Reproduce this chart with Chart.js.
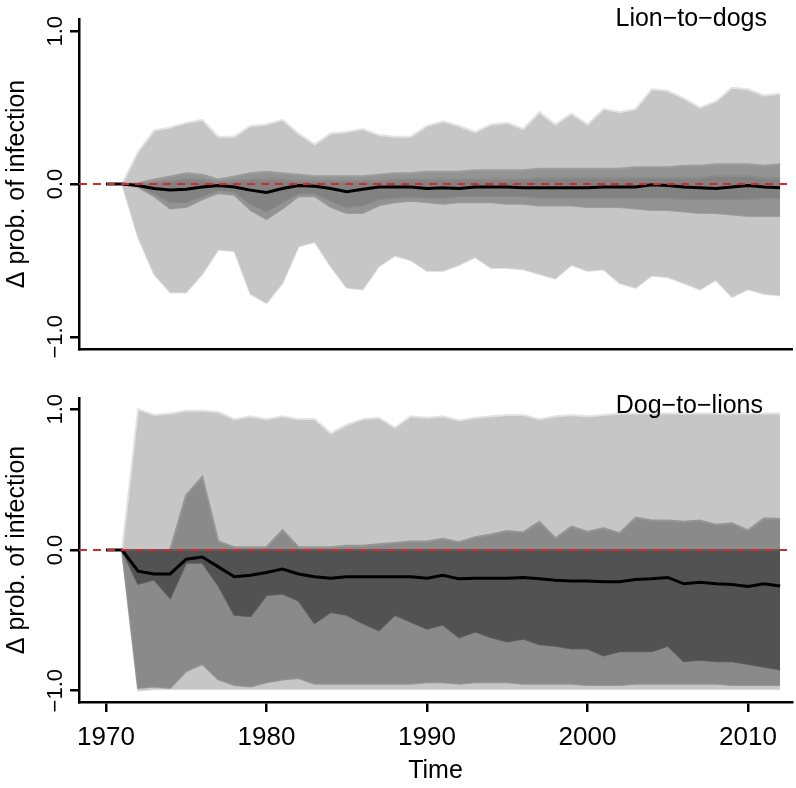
<!DOCTYPE html>
<html>
<head>
<meta charset="utf-8">
<script src="https://cdn.jsdelivr.net/npm/chart.js@4.4.1/dist/chart.umd.min.js"></script>
<style>
html, body { margin: 0; padding: 0; background: #fff; }
#wrap { position: relative; width: 796px; height: 788px; }
#top { position: absolute; left: 0; top: 0; }
#bottom { position: absolute; left: 0; top: 365px; }
</style>
</head>
<body>
<div id="wrap">
  <canvas id="top" width="796" height="365"></canvas>
  <canvas id="bottom" width="796" height="423"></canvas>
</div>
<script>
const years = [];
for (let y = 1970; y <= 2012; y++) years.push(y);

const xTicks = [1970, 1980, 1990, 2000, 2010];
const yTicks = [-1, 0, 1];

// Lion-to-dogs
const ldLightHi = [0, 0, 0.21, 0.35, 0.37, 0.40, 0.42, 0.31, 0.31, 0.38, 0.39, 0.42, 0.33, 0.26, 0.33, 0.34, 0.36, 0.32, 0.31, 0.31, 0.38,
  0.41, 0.38, 0.34, 0.39, 0.40, 0.36, 0.47, 0.39, 0.46, 0.39, 0.49, 0.47, 0.49, 0.62, 0.61, 0.56, 0.50, 0.54, 0.63, 0.62, 0.58, 0.59];
const ldLightLo = [0, 0, -0.35, -0.59, -0.71, -0.71, -0.59, -0.43, -0.44, -0.72, -0.78, -0.65, -0.41, -0.38, -0.54, -0.68, -0.69, -0.54, -0.47, -0.50, -0.57,
  -0.57, -0.53, -0.48, -0.55, -0.55, -0.56, -0.59, -0.62, -0.53, -0.57, -0.56, -0.65, -0.68, -0.60, -0.61, -0.65, -0.69, -0.63, -0.74, -0.69, -0.72, -0.73];
const ldMidHi = [0, 0, 0.005, 0.03, 0.05, 0.07, 0.06, 0.03, 0.05, 0.07, 0.08, 0.07, 0.06, 0.05, 0.05, 0.05, 0.05, 0.06, 0.07, 0.07, 0.08,
  0.08, 0.08, 0.09, 0.09, 0.09, 0.09, 0.10, 0.10, 0.10, 0.10, 0.10, 0.10, 0.11, 0.11, 0.11, 0.12, 0.12, 0.13, 0.13, 0.13, 0.12, 0.13];
const ldMidLo = [0, 0, -0.02, -0.08, -0.16, -0.15, -0.10, -0.06, -0.07, -0.17, -0.23, -0.16, -0.08, -0.08, -0.15, -0.19, -0.19, -0.14, -0.12, -0.11, -0.12,
  -0.13, -0.12, -0.12, -0.12, -0.13, -0.13, -0.14, -0.14, -0.14, -0.15, -0.15, -0.15, -0.16, -0.17, -0.17, -0.18, -0.19, -0.19, -0.20, -0.21, -0.21, -0.21];
const ldInHi = [0, 0, 0, 0.01, 0.02, 0.03, 0.03, 0.01, 0.02, 0.03, 0.03, 0.03, 0.02, 0.02, 0.02, 0.02, 0.02, 0.02, 0.03, 0.03, 0.03,
  0.03, 0.03, 0.03, 0.03, 0.03, 0.03, 0.04, 0.04, 0.04, 0.04, 0.04, 0.04, 0.04, 0.04, 0.04, 0.04, 0.04, 0.05, 0.05, 0.05, 0.04, 0.04];
const ldInLo = [0, 0, -0.015, -0.06, -0.12, -0.12, -0.08, -0.04, -0.05, -0.13, -0.18, -0.12, -0.06, -0.06, -0.11, -0.15, -0.14, -0.10, -0.09, -0.08, -0.09,
  -0.09, -0.08, -0.08, -0.08, -0.08, -0.08, -0.09, -0.09, -0.09, -0.09, -0.09, -0.09, -0.09, -0.09, -0.09, -0.10, -0.10, -0.10, -0.10, -0.10, -0.09, -0.09];
const ldMed = [0, 0, -0.01, -0.03, -0.04, -0.035, -0.02, -0.01, -0.02, -0.04, -0.055, -0.03, -0.01, -0.015, -0.03, -0.05, -0.035, -0.02, -0.02, -0.02, -0.03,
  -0.025, -0.03, -0.02, -0.02, -0.02, -0.025, -0.025, -0.025, -0.025, -0.025, -0.02, -0.02, -0.02, -0.005, -0.01, -0.02, -0.025, -0.03, -0.02, -0.01, -0.02, -0.025];

// Dog-to-lions
const dlLightHi = [0, 0, 1.0, 0.96, 0.97, 0.99, 0.99, 0.98, 0.93, 0.95, 0.93, 0.95, 0.93, 0.93, 0.83, 0.89, 0.93, 0.94, 0.87, 0.95, 0.94,
  0.95, 0.92, 0.94, 0.95, 0.96, 0.96, 0.93, 0.95, 0.96, 0.95, 0.96, 0.97, 0.97, 0.97, 0.97, 0.97, 0.97, 0.97, 0.97, 0.97, 0.97, 0.97];
const dlLightLo = [0, 0, -1.0, -0.99, -0.99, -0.99, -0.99, -0.99, -0.99, -0.99, -0.99, -0.99, -0.99, -0.99, -0.99, -0.99, -0.99, -0.99, -0.99, -0.99, -0.99,
  -0.99, -0.99, -0.99, -0.99, -0.99, -0.99, -0.99, -0.99, -0.99, -0.99, -0.99, -0.99, -0.99, -0.99, -0.99, -0.99, -0.99, -0.99, -0.99, -0.99, -0.99, -0.99];
const dlMidHi = [0, 0, 0, 0, 0, 0.39, 0.52, 0.06, 0.02, 0.02, 0.02, 0.14, 0.02, 0.02, 0.02, 0.03, 0.03, 0.04, 0.05, 0.06, 0.06,
  0.08, 0.055, 0.09, 0.11, 0.135, 0.125, 0.20, 0.083, 0.166, 0.13, 0.154, 0.12, 0.23, 0.21, 0.21, 0.20, 0.21, 0.18, 0.19, 0.14, 0.225, 0.22];
const dlMidLo = [0, 0, -0.98, -0.97, -0.98, -0.86, -0.81, -0.92, -0.96, -0.97, -0.94, -0.92, -0.91, -0.95, -0.95, -0.95, -0.95, -0.95, -0.95, -0.95, -0.94,
  -0.94, -0.95, -0.94, -0.94, -0.94, -0.95, -0.95, -0.95, -0.95, -0.96, -0.96, -0.96, -0.95, -0.95, -0.95, -0.95, -0.95, -0.95, -0.96, -0.96, -0.96, -0.96];
const dlInHi = [0, 0, 0, 0, 0, 0, 0, 0, 0, 0, 0, 0, 0, 0, 0, 0, 0, 0, 0, 0, 0,
  0, 0, 0, 0, 0, 0, 0, 0, 0, 0, 0, 0, 0, 0, 0, 0, 0, 0, 0, 0, 0, 0];
const dlInLo = [0, 0, -0.24, -0.21, -0.34, -0.09, -0.09, -0.25, -0.46, -0.47, -0.32, -0.31, -0.36, -0.52, -0.44, -0.46, -0.52, -0.57, -0.46, -0.51, -0.56,
  -0.53, -0.62, -0.58, -0.62, -0.65, -0.63, -0.67, -0.68, -0.70, -0.70, -0.75, -0.72, -0.72, -0.72, -0.68, -0.79, -0.78, -0.79, -0.79, -0.81, -0.83, -0.85];
const dlMed = [0, 0, -0.15, -0.17, -0.17, -0.065, -0.05, -0.12, -0.19, -0.18, -0.16, -0.135, -0.17, -0.19, -0.20, -0.19, -0.19, -0.19, -0.19, -0.19, -0.20,
  -0.18, -0.205, -0.20, -0.20, -0.20, -0.195, -0.205, -0.215, -0.22, -0.22, -0.225, -0.225, -0.21, -0.205, -0.195, -0.24, -0.23, -0.24, -0.245, -0.26, -0.24, -0.255];

const FONT = "'Liberation Sans', Arial, Helvetica, sans-serif";
const xMin = 1968.32, xMax = 2012.74;

function pts(arr) {
  return years.map((yr, i) => ({ x: yr, y: arr[i] }));
}

function band(hi, lo, fillCol, edgeCol) {
  return [
    { data: pts(hi), borderColor: edgeCol, borderWidth: 2, backgroundColor: fillCol, fill: '+1', pointRadius: 0, tension: 0 },
    { data: pts(lo), borderColor: edgeCol, borderWidth: 2, fill: false, pointRadius: 0, tension: 0 }
  ];
}

const zeroLine = {
  id: 'zeroLine',
  afterDatasetsDraw(chart) {
    const { ctx, chartArea, scales } = chart;
    const y = scales.y.getPixelForValue(0);
    ctx.save();
    ctx.strokeStyle = '#d22b2b';
    ctx.lineWidth = 2;
    ctx.setLineDash([8, 6]);
    ctx.beginPath();
    ctx.moveTo(chartArea.left, y);
    ctx.lineTo(chartArea.right, y);
    ctx.stroke();
    ctx.restore();
  }
};

const yLabels = {
  id: 'yLabels',
  afterDraw(chart) {
    const { ctx, scales } = chart;
    const s = scales.y;
    ctx.save();
    ctx.fillStyle = '#000';
    ctx.font = '22px ' + FONT;
    ctx.textAlign = 'center';
    ctx.textBaseline = 'alphabetic';
    s.ticks.forEach(t => {
      const y = s.getPixelForValue(t.value);
      ctx.save();
      ctx.translate(62, y);
      ctx.rotate(-Math.PI / 2);
      ctx.fillText(t.value.toFixed(1).replace('-', '\u2212'), 0, 0);
      ctx.restore();
    });
    ctx.restore();
  }
};

const panelLabel = {
  id: 'panelLabel',
  afterDraw(chart, args, opts) {
    const { ctx } = chart;
    ctx.save();
    ctx.fillStyle = '#000';
    ctx.font = '25px ' + FONT;
    ctx.textAlign = 'right';
    ctx.textBaseline = 'alphabetic';
    ctx.fillText(opts.text, opts.x, opts.y);
    ctx.restore();
  }
};

function yScale() {
  return {
    type: 'linear',
    min: -1.08,
    max: 1.08,
    afterBuildTicks: s => { s.ticks = yTicks.map(v => ({ value: v })); },
    afterFit: s => { s.width = 79; },
    ticks: { display: false },
    grid: { display: true, drawOnChartArea: false, drawTicks: true, tickLength: 9, color: '#000', lineWidth: 2.5 },
    border: { display: true, color: '#000', width: 2.5 },
    title: { display: true, text: '\u0394 prob. of infection', color: '#000', font: { size: 25, family: FONT }, padding: { top: 2, bottom: 0 } }
  };
}

function makeChart(id, sets, midCol, inCol, label, xOpts, pad) {
  const midEdge = midCol === '#8a8a8a' ? '#969696' : '#9c9c9c';
  const inEdge = inCol === '#525252' ? '#5e5e5e' : '#8a8a8a';
  const datasets = [
    { data: pts(sets.med), borderColor: '#000', borderWidth: 3, fill: false, pointRadius: 0, tension: 0 },
    ...band(sets.inHi, sets.inLo, inCol, inEdge),
    ...band(sets.midHi, sets.midLo, midCol, midEdge),
    ...band(sets.lightHi, sets.lightLo, '#c6c6c6', '#e3e3e3')
  ];
  return new Chart(document.getElementById(id), {
    type: 'line',
    data: { datasets },
    options: {
      responsive: false,
      animation: false,
      devicePixelRatio: 1,
      layout: { padding: pad },
      plugins: { legend: { display: false }, tooltip: { enabled: false }, panelLabel: label },
      scales: { x: xOpts, y: yScale() }
    },
    plugins: [zeroLine, yLabels, panelLabel]
  });
}

makeChart('top',
  { med: ldMed, inHi: ldInHi, inLo: ldInLo, midHi: ldMidHi, midLo: ldMidLo, lightHi: ldLightHi, lightLo: ldLightLo },
  '#939393', '#828282',
  { text: 'Lion\u2212to\u2212dogs', x: 767, y: 26 },
  {
    type: 'linear', min: xMin, max: xMax,
    afterBuildTicks: s => { s.ticks = []; },
    afterFit: s => { s.height = 16; },
    ticks: { display: false },
    grid: { display: false },
    border: { display: true, color: '#000', width: 2.5 }
  },
  { top: 19, right: 4, left: 0, bottom: 0 });

makeChart('bottom',
  { med: dlMed, inHi: dlInHi, inLo: dlInLo, midHi: dlMidHi, midLo: dlMidLo, lightHi: dlLightHi, lightLo: dlLightLo },
  '#8a8a8a', '#525252',
  { text: 'Dog\u2212to\u2212lions', x: 763, y: 48 },
  {
    type: 'linear', min: xMin, max: xMax,
    afterBuildTicks: s => { s.ticks = xTicks.map(v => ({ value: v })); },
    afterFit: s => { s.height = 86; },
    ticks: { display: true, color: '#000', font: { size: 26, family: FONT }, padding: 10, maxRotation: 0, autoSkip: false, callback: v => String(v) },
    grid: { display: true, drawOnChartArea: false, drawTicks: true, tickLength: 10, color: '#000', lineWidth: 2.5 },
    border: { display: true, color: '#000', width: 2.5 },
    title: { display: true, text: 'Time', color: '#000', font: { size: 25, family: FONT }, padding: { top: 0, bottom: 2 } }
  },
  { top: 33, right: 4, left: 0, bottom: 0 });
</script>
</body>
</html>
